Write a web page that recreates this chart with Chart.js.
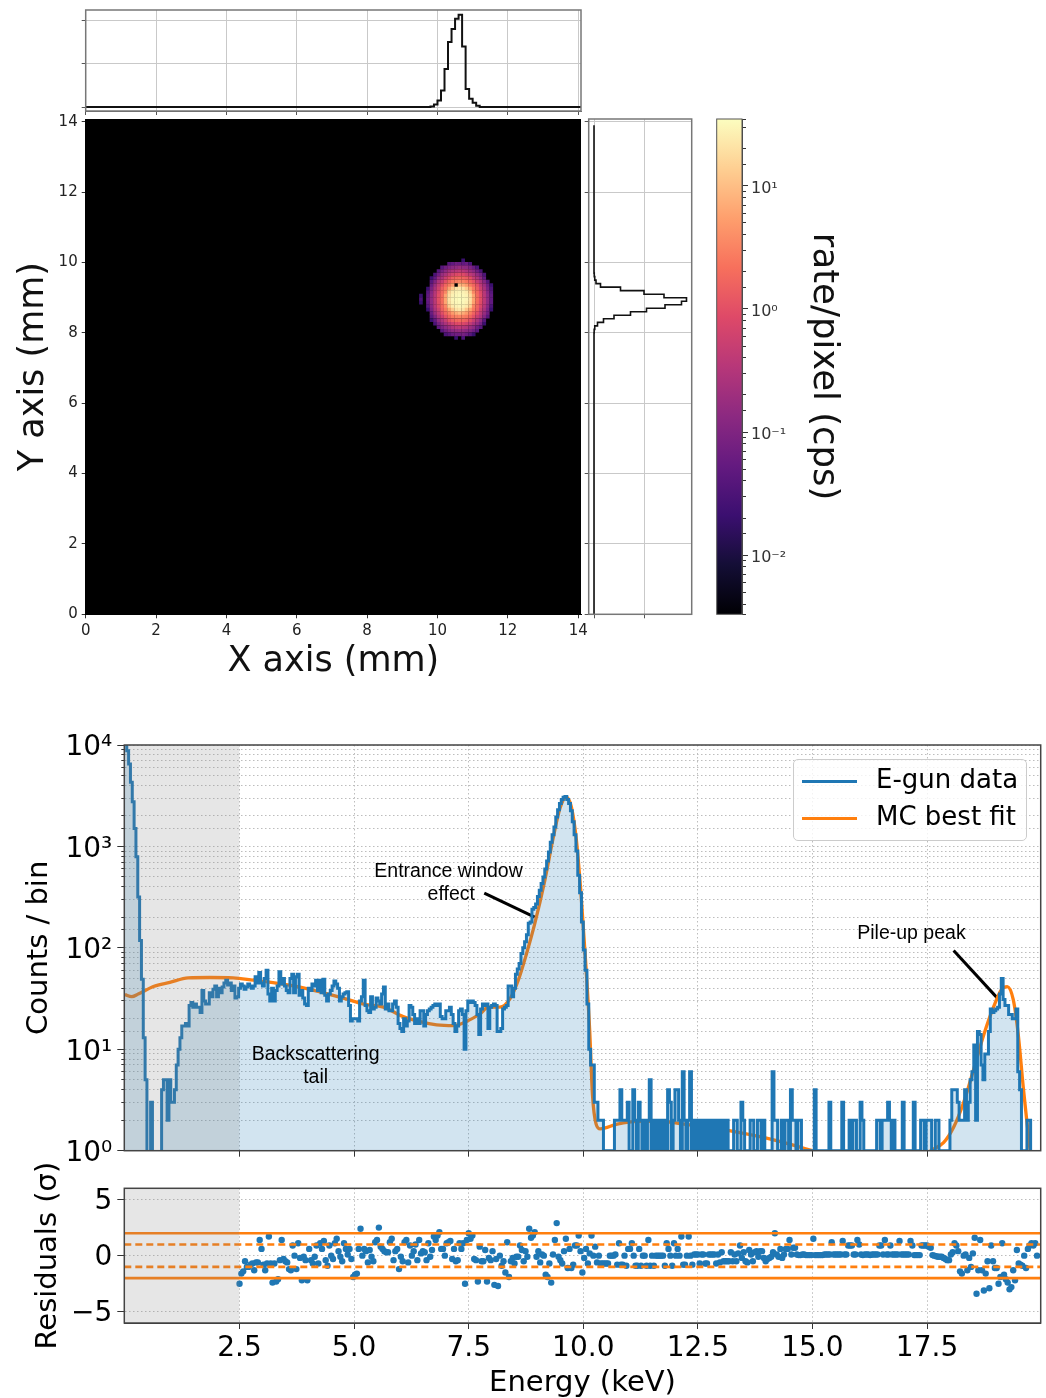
<!DOCTYPE html>
<html>
<head>
<meta charset="utf-8">
<title>E-gun spot and spectrum</title>
<script src="https://cdn.jsdelivr.net/npm/chart.js@4/dist/chart.umd.min.js"></script>
<style>
  html, body { margin: 0; padding: 0; background: #fff; width: 1046px; height: 1398px; overflow: hidden; }
  canvas { position: absolute; }
  .soft { filter: blur(0.5px); }
  #legend { position: absolute; left: 793px; top: 759px; width: 232px; height: 80px; background: rgba(255,255,255,.8);
    border: 1px solid #ccc; border-radius: 5px; font: 26px "DejaVu Sans"; color: #000; }
  #legend div { position: absolute; left: 82px; white-space: nowrap; line-height: 32px; }
  #legend span { position: absolute; left: -74px; top: 17px; width: 55px; height: 3px; }
</style>
</head>
<body>
<canvas id="topHist" class="soft"></canvas>
<canvas id="heat" class="soft"></canvas>
<canvas id="sideHist" class="soft"></canvas>
<canvas id="colorbar" class="soft"></canvas>
<canvas id="spectrum"></canvas>
<canvas id="residuals"></canvas>
<div id="legend">
  <div style="top:3px"><span style="background:#1f77b4"></span>E-gun data</div>
  <div style="top:40px"><span style="background:#ff7f0e"></span>MC best fit</div>
</div>
<script>
// ===== Data: beam spot =====
const profileBin = 0.1; // mm
// one row per mm of the X axis
const profileX = [
  0,0,0,0,0,0,0,0,0,0, 0,0,0,0,0,0,0,0,0,0, 0,0,0,0,0,0,0,0,0,0,
  0,0,0,0,0,0,0,0,0,0, 0,0,0,0,0,0,0,0,0,0, 0,0,0,0,0,0,0,0,0,0,
  0,0,0,0,0,0,0,0,0,0, 0,0,0,0,0,0,0,0,0,0, 0,0,0,0,0,0,0,0,0,0,
  0,0,0,0,0,0,0,0,5,15,
  60,150,385,880,1500,1800,2040,2130,1400,420,
  190,100,30,5,0,0,0,0,0,0,
  0,0,0,0,0,0,0,0,0,0, 0,0,0,0,0,0,0,0,0,0, 0,0,0,0,0,0,0,0,0,0
];
// one row per mm of the Y axis
const profileY = [
  0,0,0,0,0,0,0,0,0,0, 0,0,0,0,0,0,0,0,0,0, 0,0,0,0,0,0,0,0,0,0,
  0,0,0,0,0,0,0,0,0,0, 0,0,0,0,0,0,0,0,0,0, 0,0,0,0,0,0,0,0,0,0,
  0,0,0,0,0,0,0,0,0,0, 0,0,0,0,0,0,0,0,0,0,
  3,15,70,190,400,730,1050,1420,1750,1850,
  1400,1000,530,130,40,15,5,0,0,0,
  0,0,0,0,0,0,0,0,0,0, 0,0,0,0,0,0,0,0,0,0, 0,0,0,0,0,0,0,0,0,0,
  0,0,0,0,0,0,0,0,0,0
];
const mmTicks = [0, 2, 4, 6, 8, 10, 12, 14];
const mmMax = 14.08;
const profileTicks = [0, 1000, 2000];
const sideTicks = [0, 1000];

// rate/pixel around the spot, top row first
const heatX = [9.53,9.63,9.73,9.83,9.93,10.03,10.13,10.23,10.33,10.43,10.53,10.63,10.73,10.83,10.93,11.03,11.13,11.23,11.33,11.43,11.53,11.63,11.73];
const heatY = [10.06,9.96,9.86,9.76,9.66,9.56,9.46,9.36,9.26,9.16,9.06,8.96,8.86,8.76,8.66,8.56,8.46,8.36,8.26,8.16,8.06,7.96,7.86];
const heatRows = [
  [0,0,0,0,0,0,0,0,0,0,0,0,.02,0,0,0,0,0,0,0,0,0,0],
  [0,0,0,0,0,0,0,0,.04,.05,.07,.06,.05,.06,.03,0,0,0,0,0,0,0,0],
  [0,0,0,0,0,0,.04,.07,.1,.13,.15,.18,.15,.14,.1,.06,.03,0,0,0,0,0,0],
  [0,0,0,0,0,.04,.08,.14,.22,.3,.35,.4,.36,.28,.19,.13,.07,.03,0,0,0,0,0],
  [0,0,0,0,.03,.07,.17,.25,.44,.62,.82,.92,.86,.58,.4,.28,.15,.08,.03,0,0,0,0],
  [0,0,0,.02,.05,.16,.26,.52,.9,1.4,1.7,1.8,1.65,1.35,1,.48,.3,.14,.05,0,0,0,0],
  [0,0,0,.04,.1,.28,.5,1,1.7,2.5,3,3.4,3.1,2.4,1.6,1.05,.48,.26,.12,.04,0,0,0],
  [0,0,0,.06,.17,.42,.9,1.7,2.8,5,0,9,7,5,2.7,1.7,1,.38,.19,.07,.02,0,0],
  [0,0,.02,.09,.24,.58,1.4,2.4,6,12,20,22,20,12,6,2.6,1.35,.56,.25,.09,.03,0,0],
  [0,0,.04,.12,.32,.78,1.7,3.4,14,24,28,30,28,24,13,3.4,1.7,.82,.33,.12,.04,0,0],
  [.02,0,.05,.14,.36,.95,1.9,6,18,28,31,32,31,28,18,6,1.9,.95,.36,.14,.05,0,0],
  [.03,0,.06,.15,.38,1,2,6,20,30,32,34,32,30,20,6,2,1,.38,.15,.05,0,0],
  [.02,0,.05,.14,.35,.92,1.9,6,18,28,31,32,31,27,18,5.5,1.9,.9,.37,.14,.05,0,0],
  [0,0,.04,.12,.34,.8,1.7,3.5,13,24,28,30,28,23,14,3.3,1.6,.78,.32,.12,.03,0,0],
  [0,0,.02,.09,.26,.55,1.4,2.5,6,12,20,22,20,11,6,2.5,1.4,.54,.24,.09,.02,0,0],
  [0,0,0,.06,.18,.4,.95,1.7,2.8,5,7,9,7,5,2.9,1.6,.9,.4,.17,.07,0,0,0],
  [0,0,0,.04,.1,.26,.52,1,1.6,2.6,3,3.3,3,2.5,1.7,1,.5,.28,.11,.04,0,0,0],
  [0,0,0,.02,.05,.15,.28,.48,1,1.35,1.7,1.8,1.7,1.4,.92,.5,.27,.14,.04,0,0,0,0],
  [0,0,0,0,.03,.08,.16,.26,.42,.6,.85,.9,.82,.62,.43,.25,.16,.08,.02,0,0,0,0],
  [0,0,0,0,0,.05,.09,.14,.2,.28,.36,.38,.34,.3,.2,.14,.07,.04,0,0,0,0,0],
  [0,0,0,0,0,0,.04,.07,.11,.14,.16,.17,.16,.13,.11,.07,.04,0,0,0,0,0,0],
  [0,0,0,0,0,0,0,.03,.04,.06,.07,.07,.08,.06,.04,.02,0,0,0,0,0,0,0],
  [0,0,0,0,0,0,0,0,0,0,.02,0,.03,0,0,0,0,0,0,0,0,0,0]
];
const rateRange = [0.0033, 35];
const magmaStops = ['#000004','#140e36','#3b0f70','#641a80','#8c2981','#b73779','#de4968','#f7705c','#fe9f6d','#fecf92','#fcfdbf'];

// ===== Data: spectrum =====
const binWidth = 0.04; // keV
// one row per keV
const egunCounts = [
  12000,12000,8800,6500,4300,2750,1500,790,317,118,49,13,5,0,0,3,0,0,0,0,0,4,5,5,2,
  5,3,3,4,7,10,13,17,17,18,17,27,29,26,28,26,26,23,38,30,28,28,36,33,39,
  42,33,40,36,41,45,48,43,45,38,42,32,33,40,44,42,39,41,44,42,40,42,52,45,57,
  45,42,50,60,35,30,40,30,38,42,58,44,50,42,38,36,50,55,36,52,55,34,38,32,28,
  27,40,38,44,42,48,38,48,36,49,34,30,35,38,42,47,44,40,30,33,35,36,37,27,19,
  20,20,20,19,30,33,48,27,24,23,33,25,26,32,30,28,35,41,25,28,24,24,28,30,26,
  18,16,15,20,17,19,27,26,22,18,20,18,24,24,17,22,24,25,26,27,28,27,28,21,20,
  20,24,24,26,22,18,15,17,24,25,22,10,24,30,29,30,29,27,22,14,25,28,27,28,16,
  26,27,28,27,15,15,16,25,26,27,42,42,33,40,55,62,70,88,100,115,135,175,180,240,250,
  270,320,370,430,500,600,720,880,1100,1300,1550,1950,2300,2650,2900,3050,3100,2900,2650,2250,1750,1300,900,520,350,
  180,95,60,28,10,7,7,3,3,2,2,2,1,1,1,1,1,1,2,2,2,4,2,2,2,
  3,1,1,4,2,1,3,2,1,2,1,2,5,1,2,1,2,1,2,1,2,1,4,3,1,
  2,4,4,2,1,6,2,1,2,6,1,2,1,2,1,2,1,2,1,2,1,2,1,2,1,
  2,1,2,1,2,1,1,1,2,2,1,1,3,2,1,1,1,2,2,1,1,2,2,1,2,
  1,1,1,1,6,2,2,1,1,2,1,2,2,1,4,2,2,1,2,2,1,1,1,1,1,
  1,1,4,1,1,1,1,1,1,1,3,1,1,1,1,1,1,3,1,1,1,2,1,2,2,
  1,1,3,2,1,1,1,1,1,1,1,2,2,1,2,2,2,3,2,1,2,1,1,1,1,
  3,1,1,1,1,1,3,1,1,1,2,2,1,2,2,2,1,1,2,2,1,1,1,1,1,
  1,2,4,4,4,3,2,2,2,4,2,3,5,6,11,2,15,14,7,5,9,9,15,25,23,
  24,25,26,35,50,31,27,27,22,22,20,20,25,6,4,1,1,1,2,2,0,0,0,0,0
];
const fitEnergy = [0,.15,.29,.62,.98,1.38,1.85,2.36,2.8,3.3,3.82,4.33,4.76,5.24,5.64,6.07,6.44,6.8,7.17,7.46,7.75,7.93,8.18,8.4,8.58,8.76,8.94,9.16,9.34,9.49,9.63,9.74,9.85,9.95,10.05,10.14,10.2,10.28,10.37,10.74,11.18,11.69,12.2,12.63,13.21,13.93,14.5,15,16,17.57,17.86,18.08,18.3,18.52,18.74,18.95,19.13,19.25,19.38,19.49,19.6,19.67,19.75];
const fitCounts = [34.6,33,35,41.6,45.7,50.6,51,50.6,48,45,41,36,32,27.7,26,21,18.7,17.4,17.1,18.9,22.4,26,26,31.4,47.6,87,172,460,1190,2360,3060,2450,1150,342,75,15.3,3.6,1.83,1.64,1.83,1.95,1.95,1.83,1.72,1.57,1.35,1.16,1,null,1,1.2,1.7,3,6.4,14,26,39,41.5,31,14,4.2,2.1,1];
const energyTicks = [2.5, 5, 7.5, 10, 12.5, 15, 17.5];
const energyRange = [-0.014, 19.98];
const countRange = [1, 10000];
const excludedBelow = 2.5; // keV

// residuals start at excludedBelow, one row per keV
const residualValues = [
  -2.5,-1.6,-1.4,-.5,-1,-1,-.8,-.7,-1.3,-.6,-.6,1.4,.6,-.8,-1.3,-.7,1.7,-.7,-2.4,-.7,-2.3,-2.1,-.4,1.4,-.3,
  -.5,-.6,-1.2,-1.3,.9,0,-1.2,1.1,-.2,-2.2,-.1,-.4,-2.2,.6,-.4,-.7,-.1,.9,-.7,1.1,.6,1.3,-.4,-.9,.9,
  0,-.3,1.1,1.5,.4,-.1,-.5,1.1,.6,.1,.6,-.3,-1.9,-1.7,-1.6,.6,2.4,0,.6,.4,-.6,.5,-.1,-.5,1.2,
  1.4,2.5,.8,.6,.4,.3,.3,1.2,1.5,-.4,.4,.6,-1.2,-.1,-.5,1.2,1.4,-.6,.9,0,.4,1,-.4,1.4,.2,
  .4,.3,-.4,1.1,-.1,.5,1.7,1.4,1.8,2.1,.6,.6,0,1.1,1.2,1.3,-.3,.6,-.5,-.4,1.1,.6,1.1,-2.5,1.4,
  2,1.5,1.8,-.3,-.4,-2.3,.8,-.5,-.5,.5,-2.3,-.2,-.4,.4,-2.6,-.3,-2.7,0,-.9,-.5,-1.5,1.2,-1.9,-.5,-.2,
  -.7,-.1,-.1,.9,.5,-.5,.4,-.1,2.4,1.6,1.8,2.1,-.1,.4,-.6,.1,0,-1.7,-1.9,-.7,-2.4,.1,1.4,2.9,-.1,
  -.4,-.7,.4,1.5,-1.1,.6,-1.1,-.8,.9,.9,1.8,.4,-1.5,-.2,.6,-.7,.2,1.8,0,.8,-.6,0,-.7,-.7,-.7,
  -.7,-.7,0,0,0,.1,-.8,1.1,-.8,-.8,0,-.9,.6,.6,1.1,0,-.9,-.9,.6,-.9,0,0,-.9,1.4,-.9,
  0,-.9,0,0,0,0,0,-.9,1.1,.6,0,-.9,1.1,0,.6,0,1.7,-.8,-.8,0,1.7,0,-.8,.1,.1,
  .1,-.7,.1,.1,-.7,-.7,.1,.1,.1,.1,-.7,.1,-.6,.3,-.5,-.5,-.5,-.5,.3,-.5,.1,-.5,.2,.9,-.2,
  .3,-.5,-.6,.5,.1,-.5,.3,.4,-.1,.4,.4,-.2,-.5,-.3,-.2,-.1,.3,2,.1,-.1,.6,-.2,.1,.6,.6,
  1.4,.1,.7,.7,.1,.05,.05,.1,.1,.05,.05,.05,.05,1.5,.05,.05,.05,.05,.05,.1,.1,.1,.1,1.2,.1,
  .1,.1,.1,.1,1.3,.1,.1,.9,.9,.9,.1,.1,1.4,1,.1,.05,.1,.1,.1,.05,.1,.1,.1,.1,.9,
  .9,.1,1.4,.1,.1,.9,.1,.1,.1,.1,1.3,.1,.1,.1,.1,.1,1.3,.9,.05,.05,.05,.05,.9,.9,.9,
  .9,.8,.7,.05,0,-.05,-.1,-.1,-.1,-.2,-.3,-.4,-.4,.1,.3,1.1,.9,.4,-1.4,-1.6,0,.1,-1.3,-.2,-1,
  .2,1.6,-3.4,-1.3,1.4,-1.3,-3.1,-1.6,-.5,-2.9,.9,-.5,-1.1,-1.1,-2.5,-1.9,1.1,-1.7,-2.1,-2.4,-3,-2.8,-1.3,-2.2,.5,
  -.7,-.8,-.9,0,-1.1,.6,.9,1.1,.9,1.1,0
];
const residualRange = [-6, 6];
const residualTicks = [-5, 0, 5];
const sigmaSolid = [-2, 2];
const sigmaDashed = [-1, 1];

// annotations on the spectrum
const noteText = ['Entrance window', 'effect', 'Backscattering', 'tail', 'Pile-up peak'];
const noteEnergy = [7.06, 7.12, 4.16, 4.16, 17.16];
const noteCounts = [568, 336, 8.9, 5.3, 139];
const windowArrow = [[7.84, 347], [8.94, 201]];
const pileupArrow = [[18.08, 94], [19.07, 30.7]];

// ===== Helpers =====
Chart.defaults.font.family = '"DejaVu Sans"';
Chart.defaults.color = '#222';

// fixes the canvas so the plot area lands on box, margins hold the axes
function place(id, box, margin) {
  const c = document.getElementById(id);
  const left = Math.floor(box.l - margin.l), top = Math.floor(box.t - margin.t);
  const right = Math.ceil(box.r + margin.r), bottom = Math.ceil(box.b + margin.b);
  c.style.left = left + 'px';
  c.style.top = top + 'px';
  c.width = right - left;
  c.height = bottom - top;
  return { c, l: box.l - left, t: box.t - top, r: right - box.r, b: bottom - box.b };
}

function lockAxis(size) {
  return scale => {
    if (scale.isHorizontal()) scale.height = size; else scale.width = size;
    scale.paddingLeft = scale.paddingRight = scale.paddingTop = scale.paddingBottom = 0;
  };
}

function fixedTicks(list) {
  return scale => { scale.ticks = list.map(v => ({ value: v })); };
}

function frame(color, width) {
  return {
    id: 'frame',
    afterDraw(chart) {
      const a = chart.chartArea, ctx = chart.ctx;
      ctx.save();
      ctx.strokeStyle = color;
      ctx.lineWidth = width;
      ctx.strokeRect(a.left, a.top, a.right - a.left, a.bottom - a.top);
      ctx.restore();
    }
  };
}

function baseOptions(geo, scales) {
  return {
    responsive: false,
    animation: false,
    devicePixelRatio: 1,
    events: [],
    layout: { padding: { left: 0, bottom: 0, top: geo.t, right: geo.r } },
    plugins: { legend: { display: false }, tooltip: { enabled: false } },
    scales
  };
}

function hexToRgb(h) {
  return [1, 3, 5].map(i => parseInt(h.slice(i, i + 2), 16));
}

function rateColor(rate) {
  const lo = Math.log10(rateRange[0]), hi = Math.log10(rateRange[1]);
  const t = Math.min(1, Math.max(0, (Math.log10(rate) - lo) / (hi - lo))) * (magmaStops.length - 1);
  const i = Math.min(magmaStops.length - 2, Math.floor(t));
  const a = hexToRgb(magmaStops[i]), b = hexToRgb(magmaStops[i + 1]);
  return 'rgb(' + a.map((v, k) => Math.round(v + (b[k] - v) * (t - i))).join(',') + ')';
}

const SUP = { '-': '⁻', '0': '⁰', '1': '¹', '2': '²', '3': '³', '4': '⁴' };
function decadeLabel(v) {
  const e = Math.round(Math.log10(v));
  if (Math.abs(Math.log10(v) - e) > 1e-6) return '';
  return '10' + String(e).split('').map(ch => SUP[ch]).join('');
}

const GREY_GRID = '#c9c9c9';
const DOT_GRID = '#bdbdbd';
const TICK = '#333';

// ===== Top profile =====
{
  const geo = place('topHist', { l: 85.7, t: 10, r: 581, b: 111 }, { l: 10, t: 5, r: 5, b: 6 });
  new Chart(geo.c, {
    type: 'scatter',
    data: { datasets: [{
      data: profileX.map((v, i) => ({ x: i * profileBin, y: v })),
      showLine: true, stepped: 'after', pointRadius: 0, borderColor: '#111', borderWidth: 2
    }] },
    options: baseOptions(geo, {
      x: { type: 'linear', min: 0, max: mmMax, afterBuildTicks: fixedTicks(mmTicks), afterFit: lockAxis(geo.b),
        grid: { color: GREY_GRID, tickColor: '#555', tickLength: 4 }, ticks: { display: false }, border: { color: '#666' } },
      y: { min: -90, max: 2240, afterBuildTicks: fixedTicks(profileTicks), afterFit: lockAxis(geo.l),
        grid: { color: GREY_GRID, tickColor: '#555', tickLength: 4 }, ticks: { display: false }, border: { color: '#666' } }
    }),
    plugins: [frame('#777', 1.5)]
  });
}

// ===== Heat map =====
{
  const geo = place('heat', { l: 85.7, t: 119, r: 581, b: 614.3 }, { l: 75, t: 8, r: 16, b: 66 });
  const cells = [];
  heatRows.forEach((row, j) => row.forEach((rate, i) => {
    if (rate > 0) cells.push({ x: heatX[i], y: heatY[j], rate });
  }));
  new Chart(geo.c, {
    type: 'scatter',
    data: { datasets: [{
      data: cells, pointStyle: 'rect', pointRadius: 2.6, borderWidth: 0,
      backgroundColor: ctx => ctx.raw ? rateColor(ctx.raw.rate) : '#000'
    }] },
    options: baseOptions(geo, {
      x: { type: 'linear', min: 0, max: mmMax, afterBuildTicks: fixedTicks(mmTicks), afterFit: lockAxis(geo.b),
        grid: { drawOnChartArea: false, tickColor: TICK, tickLength: 4 }, border: { color: '#000' },
        ticks: { color: '#222', font: { size: 15 }, padding: 4, maxRotation: 0, autoSkip: false },
        title: { display: true, text: 'X axis (mm)', color: '#111', font: { size: 35, lineHeight: 1.1 }, padding: { top: 1, bottom: 0 } } },
      y: { min: 0, max: mmMax, afterBuildTicks: fixedTicks(mmTicks), afterFit: lockAxis(geo.l),
        grid: { drawOnChartArea: false, tickColor: TICK, tickLength: 4 }, border: { color: '#000' },
        ticks: { color: '#222', font: { size: 15 }, padding: 4, autoSkip: false },
        title: { display: true, text: 'Y axis (mm)', color: '#111', font: { size: 35 }, padding: { top: 2.5, bottom: 0 } } }
    }),
    plugins: [{
      id: 'blackBackground',
      beforeDatasetsDraw(chart) {
        const a = chart.chartArea;
        chart.ctx.fillStyle = '#000';
        chart.ctx.fillRect(a.left, a.top, a.right - a.left, a.bottom - a.top);
      }
    }]
  });
}

// ===== Side profile =====
{
  const geo = place('sideHist', { l: 588.7, t: 119, r: 691.7, b: 614.3 }, { l: 6, t: 5, r: 5, b: 8 });
  new Chart(geo.c, {
    type: 'scatter',
    data: { datasets: [{
      data: profileY.map((v, i) => ({ x: v, y: i * profileBin })),
      showLine: true, stepped: 'after', pointRadius: 0, borderColor: '#111', borderWidth: 1.6
    }] },
    options: baseOptions(geo, {
      x: { type: 'linear', min: -106, max: 1954, afterBuildTicks: fixedTicks(sideTicks), afterFit: lockAxis(geo.b),
        grid: { color: GREY_GRID, tickColor: '#555', tickLength: 4 }, ticks: { display: false }, border: { color: '#666' } },
      y: { min: 0, max: mmMax, afterBuildTicks: fixedTicks(mmTicks), afterFit: lockAxis(geo.l),
        grid: { color: GREY_GRID, tickColor: '#555', tickLength: 4 }, ticks: { display: false }, border: { color: '#666' } }
    }),
    plugins: [frame('#777', 1.5)]
  });
}

// ===== Colour bar =====
{
  const geo = place('colorbar', { l: 716.7, t: 119, r: 742, b: 614.3 }, { l: 4, t: 5, r: 118, b: 5 });
  const opts = baseOptions(geo, {
    x: { display: false },
    y: { type: 'logarithmic', position: 'right', min: rateRange[0], max: rateRange[1], afterFit: lockAxis(geo.r),
      grid: { drawOnChartArea: false, tickLength: 6, tickColor: TICK,
        tickBorderDash: ctx => (ctx.tick && ctx.tick.major) ? [] : [3, 50] },
      border: { color: '#444' },
      ticks: { callback: decadeLabel, autoSkip: false, maxRotation: 0, color: '#333', font: { size: 16 }, padding: 3, labelOffset: 3 },
      title: { display: true, text: 'rate/pixel (cps)', color: '#111', font: { size: 35.5 }, padding: { top: 15, bottom: 0 } } }
  });
  opts.layout.padding = { left: geo.l, top: geo.t, right: 0, bottom: geo.b };
  new Chart(geo.c, {
    type: 'bar',
    data: { labels: ['rate'], datasets: [{
      data: [rateRange], barPercentage: 1, categoryPercentage: 1, borderWidth: 0,
      backgroundColor: ctx => {
        const a = ctx.chart.chartArea;
        if (!a) return magmaStops[5];
        const g = ctx.chart.ctx.createLinearGradient(0, a.bottom, 0, a.top);
        magmaStops.forEach((col, i) => g.addColorStop(i / (magmaStops.length - 1), col));
        return g;
      }
    }] },
    options: opts,
    plugins: [frame('#555', 1)]
  });
}

// ===== Spectrum =====
{
  const geo = place('spectrum', { l: 124.3, t: 745, r: 1040.7, b: 1150.7 }, { l: 124, t: 20, r: 5, b: 24 });
  const arrowStyle = { showLine: true, pointRadius: 0, borderColor: '#000', borderWidth: 3 };
  const opts = baseOptions(geo, {
    x: { type: 'linear', min: energyRange[0], max: energyRange[1], afterBuildTicks: fixedTicks(energyTicks), afterFit: lockAxis(geo.b),
      grid: { color: DOT_GRID, tickColor: TICK, tickLength: 6, lineWidth: 1 }, ticks: { display: false },
      border: { color: '#333', dash: [1.5, 2.5] } },
    y: { type: 'logarithmic', min: countRange[0], max: countRange[1], afterFit: lockAxis(geo.l),
      grid: { color: DOT_GRID, tickColor: TICK, tickLength: 7,
        tickBorderDash: ctx => (ctx.tick && ctx.tick.major) ? [] : [0, 4, 3, 50] },
      ticks: { callback: decadeLabel, autoSkip: false, maxRotation: 0, color: '#000', font: { size: 28 }, padding: 5, labelOffset: 3 },
      border: { color: '#333', dash: [1.5, 2.5] },
      title: { display: true, text: 'Counts / bin', color: '#000', font: { size: 29 }, padding: { top: 21.6, bottom: 0 } } }
  });
  new Chart(geo.c, {
    type: 'line',
    data: { datasets: [
      { data: [{ x: energyRange[0], y: countRange[1] }, { x: excludedBelow, y: countRange[1] }],
        fill: 'start', backgroundColor: 'rgba(128,128,128,.2)', borderWidth: 0, pointRadius: 0 },
      // a log axis has no zero, empty bins go below the bottom edge
      { label: 'E-gun data', data: egunCounts.map((c, i) => ({ x: i * binWidth, y: c > 0 ? c : 0.5 })),
        stepped: 'after', borderColor: '#1f77b4', borderWidth: 3, pointRadius: 0,
        fill: 'start', backgroundColor: 'rgba(31,119,180,.2)' },
      { label: 'MC best fit', data: fitEnergy.map((e, i) => ({ x: e, y: fitCounts[i] })),
        borderColor: '#ff7f0e', borderWidth: 3.3, pointRadius: 0, cubicInterpolationMode: 'monotone' },
      { data: windowArrow.map(p => ({ x: p[0], y: p[1] })), ...arrowStyle },
      { data: pileupArrow.map(p => ({ x: p[0], y: p[1] })), ...arrowStyle }
    ] },
    options: opts,
    plugins: [frame('#444', 1.5), {
      id: 'notes',
      afterDatasetsDraw(chart) {
        const ctx = chart.ctx;
        ctx.save();
        ctx.font = '19.5px "Liberation Sans"';
        ctx.fillStyle = '#000';
        ctx.textAlign = 'center';
        ctx.textBaseline = 'middle';
        noteText.forEach((t, i) => {
          ctx.fillText(t, chart.scales.x.getPixelForValue(noteEnergy[i]), chart.scales.y.getPixelForValue(noteCounts[i]));
        });
        ctx.restore();
      }
    }]
  });
}

// ===== Residuals =====
{
  const geo = place('residuals', { l: 124.3, t: 1188.3, r: 1040.7, b: 1323 }, { l: 124, t: 30, r: 5, b: 75 });
  const hline = (y, dash) => ({
    type: 'line', data: [{ x: energyRange[0], y }, { x: energyRange[1], y }],
    borderColor: '#ff7f0e', borderWidth: 2.6, pointRadius: 0, borderDash: dash
  });
  new Chart(geo.c, {
    type: 'scatter',
    data: { datasets: [
      { type: 'line', data: [{ x: energyRange[0], y: residualRange[1] }, { x: excludedBelow, y: residualRange[1] }],
        fill: 'start', backgroundColor: 'rgba(128,128,128,.2)', borderWidth: 0, pointRadius: 0 },
      hline(sigmaSolid[0], []), hline(sigmaSolid[1], []),
      hline(sigmaDashed[0], [7, 4]), hline(sigmaDashed[1], [7, 4]),
      { data: residualValues.map((r, i) => ({ x: excludedBelow + i * binWidth, y: r })),
        pointRadius: 3.2, borderWidth: 0, backgroundColor: '#1f77b4' }
    ] },
    options: baseOptions(geo, {
      x: { type: 'linear', min: energyRange[0], max: energyRange[1], afterBuildTicks: fixedTicks(energyTicks), afterFit: lockAxis(geo.b),
        grid: { color: DOT_GRID, tickColor: TICK, tickLength: 6 },
        ticks: { color: '#000', font: { size: 28 }, padding: 3, maxRotation: 0, autoSkip: false, callback: v => v.toFixed(1) },
        border: { color: '#333', dash: [1.5, 2.5] },
        title: { display: true, text: 'Energy (keV)', color: '#000', font: { size: 29, lineHeight: 1 }, padding: { top: 1.5, bottom: 0 } } },
      y: { min: residualRange[0], max: residualRange[1], afterBuildTicks: fixedTicks(residualTicks), afterFit: lockAxis(geo.l),
        grid: { color: DOT_GRID, tickColor: TICK, tickLength: 7 },
        ticks: { color: '#000', font: { size: 28 }, padding: 5, autoSkip: false, labelOffset: 2,
          callback: v => String(v).replace('-', '−') },
        border: { color: '#333', dash: [1.5, 2.5] },
        title: { display: true, text: 'Residuals (σ)', color: '#000', font: { size: 29 }, padding: { top: 30.6, bottom: 0 } } }
    }),
    plugins: [frame('#444', 1.5)]
  });
}
</script>
</body>
</html>
